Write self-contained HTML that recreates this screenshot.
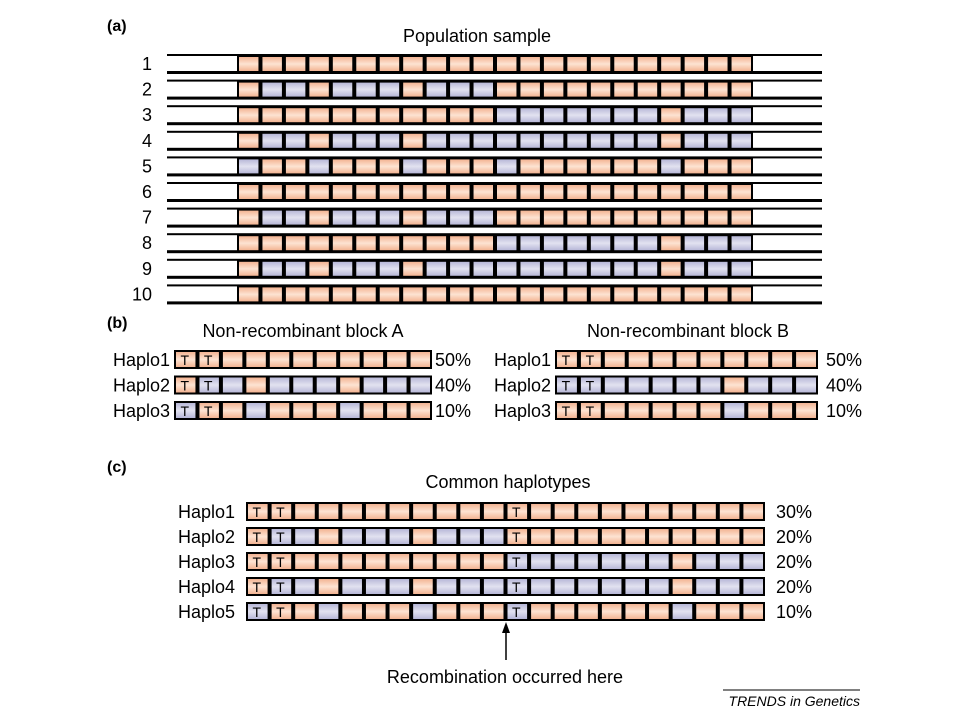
<!DOCTYPE html>
<html><head><meta charset="utf-8"><style>
body{margin:0;background:#fff;}
svg{display:block;font-family:"Liberation Sans",Arial,sans-serif;}
</style></head><body>
<svg id="fig" width="960" height="720" viewBox="0 0 960 720">
<defs>
<linearGradient id="gO" x1="0" y1="0" x2="0" y2="1"><stop offset="0" stop-color="#f3b493"/><stop offset="0.5" stop-color="#fde3d2"/><stop offset="1" stop-color="#f3b493"/></linearGradient>
<linearGradient id="gB" x1="0" y1="0" x2="0" y2="1"><stop offset="0" stop-color="#b8b8d8"/><stop offset="0.5" stop-color="#e2e2f0"/><stop offset="1" stop-color="#b8b8d8"/></linearGradient>
</defs>
<text x="107" y="31" font-size="16" font-weight="bold">(a)</text>
<text x="477" y="42" font-size="18" text-anchor="middle">Population sample</text>
<text x="107" y="328" font-size="16" font-weight="bold">(b)</text>
<text x="303" y="337" font-size="18" text-anchor="middle">Non-recombinant block A</text>
<text x="688" y="337" font-size="18" text-anchor="middle">Non-recombinant block B</text>
<text x="107" y="472" font-size="16" font-weight="bold">(c)</text>
<text x="508" y="488" font-size="18" text-anchor="middle">Common haplotypes</text>
<line x1="506" y1="660" x2="506" y2="630" stroke="#000" stroke-width="1.5"/>
<polygon points="506,622 502,633 510,633" fill="#000"/>
<text x="505" y="683" font-size="18" text-anchor="middle">Recombination occurred here</text>
<line x1="723" y1="690" x2="860" y2="690" stroke="#000" stroke-width="1"/>
<text x="860" y="706" font-size="14" font-style="italic" text-anchor="end">TRENDS in Genetics</text>
<g id="layer"></g>
</svg>
<script>
const sampleRows=["OOOOOOOOOOOOOOOOOOOOOO","OBBOBBBOBBBOOOOOOOOOOO","OOOOOOOOOOOBBBBBBBOBBB","OBBOBBBOBBBBBBBBBBOBBB","BOOBOOOBOOOBOOOOOOBOOO","OOOOOOOOOOOOOOOOOOOOOO","OBBOBBBOBBBOOOOOOOOOOO","OOOOOOOOOOOBBBBBBBOBBB","OBBOBBBOBBBBBBBBBBOBBB","OOOOOOOOOOOOOOOOOOOOOO"];
const blockA=["OOOOOOOOOOO","OBBOBBBOBBB","BOOBOOOBOOO"];
const blockB=["OOOOOOOOOOO","BBBBBBBOBBB","OOOOOOOBOOO"];
const blockPct=["50%","40%","10%"];
const common=["OOOOOOOOOOOOOOOOOOOOOO","OBBOBBBOBBBOOOOOOOOOOO","OOOOOOOOOOOBBBBBBBOBBB","OBBOBBBOBBBBBBBBBBOBBB","BOOBOOOBOOOBOOOOOOBOOO"];
const commonPct=["30%","20%","20%","20%","10%"];
const tA=[0,1], tC=[0,1,11];
const NS="http://www.w3.org/2000/svg";
const layer=document.getElementById('layer');
function mk(t,a,p){const e=document.createElementNS(NS,t);for(const k in a)e.setAttribute(k,a[k]);(p||layer).appendChild(e);return e;}
function cells(pat,x0,x1,y,h,tmarks,name){
  const g=mk('g',{});
  
  
  const n=pat.length,w=(x1-x0)/n;
  mk('rect',{x:x0,y:y,width:x1-x0,height:h,fill:'#000'},g);
  for(let i=0;i<n;i++){
    const c=mk('rect',{x:x0+i*w+2,y:y+2,width:w-4,height:h-4,fill:pat[i]==='O'?'url(#gO)':'url(#gB)'},g);
    
    
    if(tmarks&&tmarks.includes(i)){
      const t=mk('text',{x:x0+i*w+w/2-1,y:y+h-4,'font-size':h-5,'text-anchor':'middle'},g);
      t.textContent='T';
    }
  }
}
function label(x,y,txt,anchor,name){
  const t=mk('text',{x:x,y:y,'font-size':18,'text-anchor':anchor||'start'});
  
  
  t.textContent=txt;
}
sampleRows.forEach((p,r)=>{
  const y=54+r*25.6;
  mk('rect',{x:167,y:y,width:655,height:2,fill:'#000'});
  mk('rect',{x:167,y:y+17,width:655,height:3,fill:'#000'});
  cells(p,237,753,y+1,18,null,'sample-row-'+(r+1));
  label(152,y+16,String(r+1),'end','sample-number');
});
blockA.forEach((p,r)=>{
  const y=350+r*25.5;
  cells(p,174,432,y,19,tA,'block-a-haplo'+(r+1));
  label(170,y+16,'Haplo'+(r+1),'end','block-a-label');
  label(435,y+16,blockPct[r],'start','block-a-pct');
});
blockB.forEach((p,r)=>{
  const y=350+r*25.5;
  cells(p,555,818,y,19,tA,'block-b-haplo'+(r+1));
  label(551,y+16,'Haplo'+(r+1),'end','block-b-label');
  label(826,y+16,blockPct[r],'start','block-b-pct');
});
common.forEach((p,r)=>{
  const y=502+r*25;
  cells(p,246,765,y,19,tC,'common-haplo'+(r+1));
  label(235,y+16,'Haplo'+(r+1),'end','common-label');
  label(776,y+16,commonPct[r],'start','common-pct');
});
</script>
</body></html>
